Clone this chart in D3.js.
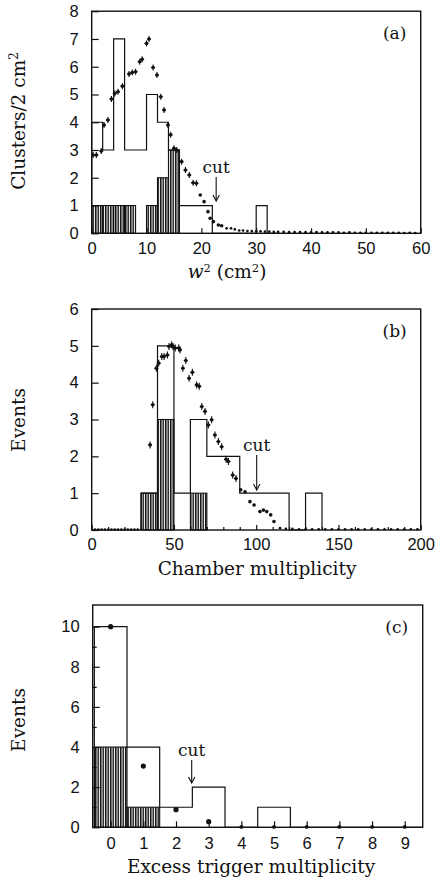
<!DOCTYPE html>
<html><head><meta charset="utf-8">
<script src="https://cdn.jsdelivr.net/npm/d3@7"></script>
<style>
html,body{margin:0;padding:0;background:#fff;}
svg{display:block;}
</style></head>
<body>
<script>
// ---------- Panel (a) ----------
const aBinStart = [0,2,4,6,8,10,12,14,16,18,20,22,24,26,28,30,32];
const aOpenCounts = [4,3,7,3,3,5,4,3,1,1,1,0,0,0,0,1,0];
const aHatchedCounts = [1,1,1,1,0,1,2,3,0,0,0,0,0,0,0,0,0];
const aPointX = [0.25,0.85,1.75,2.25,2.95,3.6,4.2,4.8,5.6,6.8,7.4,8.0,8.75,9.2,10.0,10.45,11.2,11.9,12.6,13.2,13.9,14.4,15.0,15.5,16.4,17.1,17.8,18.5,19.1,19.8,20.5,21.2,21.6,22.2,23.1,23.7,24.6,25.4,26.1,26.9,27.6,28.4,29.2,30,30.8,31.6,32.4,33.2,34,35,36,37,38,39,40,41,42,43,44,45,46,47,48,49,50,51,52,53,54,55,56,57,58,59];
const aPointY = [2.82,2.82,2.96,3.9,4.08,4.84,5.04,5.1,5.3,5.74,5.79,5.82,6.18,6.27,6.84,7.0,5.97,5.7,4.92,4.44,3.9,3.55,3.06,3.0,2.58,2.28,2.1,1.82,1.8,1.38,1.14,0.78,0.54,0.42,0.3,0.27,0.18,0.18,0.14,0.1,0.1,0.08,0.08,0.07,0.07,0.06,0.06,0.05,0.05,0.05,0.04,0.04,0.04,0.04,0.03,0.04,0.03,0.03,0.03,0.03,0.02,0.03,0.02,0.02,0.02,0.02,0.02,0.02,0.02,0.02,0.02,0.01,0.02,0.01];
const aYTicks = [0,1,2,3,4,5,6,7,8];
const aXTicks = [0,10,20,30,40,50,60];

// ---------- Panel (b) ----------
const bBinStart = [30,40,50,60,70,80,90,100,110,120,130];
const bOpenCounts = [1,5,1,3,2,2,1,1,1,0,1];
const bHatchedCounts = [1,3,0,1,0,0,0,0,0,0,0];
const bPointX = [2,4,6,8,10,12,14,16,18,20,22,24,26,28,35.5,37.1,39.3,40.7,42.6,44,46,47,48.6,49.4,50.8,52.9,53.7,55.4,57.2,59.2,61.2,63.8,65.4,66.9,68.9,70.9,72.9,74.9,77,79,81.7,83.1,85.7,87.7,90.6,93.2,96.2,98.7,102.3,104.4,106.4,108.8,110.8,114.5,118,122,126,130,134,138,142,146,150,154,158,162,166,170,174,178,182,186,190,194,198];
const bPointY = [0.01,0.01,0.01,0.01,0.01,0.01,0.01,0.01,0.01,0.01,0.01,0.01,0.01,0.01,2.31,3.4,4.39,4.53,4.71,4.71,4.75,4.98,5.03,4.98,4.94,4.94,4.89,4.39,4.6,4.12,4.28,3.94,3.9,3.35,3.22,2.85,2.99,2.58,2.4,2.26,1.92,1.86,1.49,1.4,1.09,1.04,0.77,0.68,0.5,0.54,0.5,0.41,0.23,0.05,0.03,0.03,0.02,0.02,0.02,0.02,0.02,0.02,0.02,0.02,0.02,0.02,0.02,0.02,0.02,0.02,0.02,0.02,0.02,0.02,0.02];
const bYTicks = [0,1,2,3,4,5,6];
const bXTicks = [0,50,100,150,200];
const bXMinorTicks = [10,20,30,40,60,70,80,90,110,120,130,140,160,170,180,190];

// ---------- Panel (c) ----------
const cCategories = [0,1,2,3,4,5,6,7,8,9];
const cOpenCounts = [10,4,1,2,0,1,0,0,0,0];
const cHatchedCounts = [4,1,0,0,0,0,0,0,0,0];
const cPointY = [10,3.05,0.88,0.28,0.02,0.02,0.02,0.02,0.02,0.02];
const cYTicks = [0,2,4,6,8,10];
const cYMinorTicks = [1,3,5,7,9];

const W = 438, H = 878;
const svg = d3.select("body").append("svg").attr("width", W).attr("height", H);

const defs = svg.append("defs");
const pat = defs.append("pattern").attr("id","hatch").attr("patternUnits","userSpaceOnUse")
  .attr("width",2.5).attr("height",10);
pat.append("rect").attr("x",0).attr("y",0).attr("width",1.5).attr("height",10).attr("fill","#111");

const TICKFONT = "'Liberation Sans', Arial, sans-serif";
const SERIF = "'DejaVu Serif', serif";

function stepPoints(starts, counts, lastEnd) {
  const pts = [[starts[0], 0]];
  starts.forEach((s,i) => pts.push([s, counts[i]]));
  pts.push([lastEnd, counts[counts.length-1]]);
  pts.push([lastEnd, 0]);
  return pts;
}

function panel(opt) {
  const g = svg.append("g");
  const x = d3.scaleLinear().domain(opt.xDomain).range([opt.left, opt.right]);
  const y = d3.scaleLinear().domain(opt.yDomain).range([opt.bottom, opt.top]);

  opt.starts.forEach((s,i) => {
    const v = opt.hatched[i];
    if (v > 0) {
      g.append("rect").attr("x", x(s)).attr("y", y(v))
        .attr("width", x(s+opt.width)-x(s)).attr("height", y(0)-y(v))
        .attr("fill","url(#hatch)").attr("stroke","#111").attr("stroke-width",1.1);
    }
  });

  const openPts = stepPoints(opt.starts, opt.open, opt.starts[opt.starts.length-1] + opt.width);
  const line = d3.line().curve(d3.curveStepAfter).x(d=>x(d[0])).y(d=>y(d[1]));
  g.append("path").attr("d", line(openPts)).attr("fill","none").attr("stroke","#111").attr("stroke-width",1.2);

  g.append("rect").attr("x",opt.left).attr("y",opt.top).attr("width",opt.right-opt.left)
    .attr("height",opt.bottom-opt.top).attr("fill","none").attr("stroke","#111").attr("stroke-width",1.4);

  const yAxis = d3.axisLeft(y).tickValues(opt.yTicks).tickSize(-7).tickPadding(13).tickFormat(d3.format("d"));
  g.append("g").attr("transform",`translate(${opt.left},0)`).call(yAxis);
  if (opt.yMinor) {
    g.append("g").attr("transform",`translate(${opt.left},0)`)
      .call(d3.axisLeft(y).tickValues(opt.yMinor).tickSize(-4).tickFormat(""));
  }
  g.append("g").attr("transform",`translate(0,${opt.bottom})`)
    .call(d3.axisBottom(x).tickValues(opt.xTicks).tickSize(-opt.xTickLen).tickPadding(opt.xPad).tickFormat(d3.format("d")));
  if (opt.xMinor) {
    g.append("g").attr("transform",`translate(0,${opt.bottom})`)
      .call(d3.axisBottom(x).tickValues(opt.xMinor).tickSize(-3).tickFormat(""));
  }
  g.selectAll(".domain").remove();
  g.selectAll(".tick line").attr("stroke","#111").attr("stroke-width",1.2);
  g.selectAll(".tick text").attr("font-family",TICKFONT).attr("font-size",16.5).attr("fill","#111");

  const pts = opt.px.map((v,i)=>[v,opt.py[i]]);
  const pg = g.append("g");
  pts.forEach(d => {
    const cx = x(d[0]), cy = y(d[1]);
    if (d[1] > opt.errMin) {
      pg.append("line").attr("x1",cx).attr("x2",cx).attr("y1",cy-opt.errH).attr("y2",cy+opt.errH)
        .attr("stroke","#111").attr("stroke-width",1.1);
      pg.append("line").attr("x1",cx-opt.errW).attr("x2",cx+opt.errW).attr("y1",cy).attr("y2",cy)
        .attr("stroke","#111").attr("stroke-width",1.1);
    }
    pg.append("circle").attr("cx",cx).attr("cy",cy).attr("r", d[1] > 0.2 ? opt.r : opt.r*0.75).attr("fill","#111");
  });

  const ax = x(opt.cutX);
  g.append("line").attr("x1",ax).attr("x2",ax).attr("y1",opt.cutY0).attr("y2",opt.cutY1-1)
    .attr("stroke","#111").attr("stroke-width",1.1);
  g.append("path").attr("d",`M${ax-3.2},${opt.cutY1-6} L${ax},${opt.cutY1} L${ax+3.2},${opt.cutY1-6}`)
    .attr("fill","none").attr("stroke","#111").attr("stroke-width",1.1);
  g.append("text").attr("x",ax).attr("y",opt.cutY0-4).attr("text-anchor","middle")
    .attr("font-family",SERIF).attr("font-size",17).attr("fill","#111").text("cut");

  g.append("text").attr("x",opt.right-26).attr("y",opt.top+28).attr("text-anchor","middle")
    .attr("font-family",SERIF).attr("font-size",17).attr("fill","#111").text(opt.label);

  g.append("text").attr("transform",`translate(${opt.yTitleX},${opt.yTitleY}) rotate(-90)`)
    .attr("text-anchor","middle").attr("font-family",SERIF).attr("font-size",18.5).attr("fill","#111")
    .call(opt.yTitle);
  g.append("text").attr("x",opt.xTitleX).attr("y",opt.xTitleY).attr("text-anchor","middle")
    .attr("font-family",SERIF).attr("font-size",18.5).attr("fill","#111")
    .call(opt.xTitle);
  return {x,y};
}

panel({
  left:91.7, right:420.7, top:11.2, bottom:233.3,
  xDomain:[0,60], yDomain:[0,8],
  starts:aBinStart, width:2, open:aOpenCounts, hatched:aHatchedCounts,
  yTicks:aYTicks, xTicks:aXTicks, xTickLen:5, xPad:9,
  px:aPointX, py:aPointY, errMin:1.5, errH:3, errW:2, r:1.8,
  cutX:22.7, cutY0:177, cutY1:201,
  label:"(a)", yTitleX:25, yTitleY:121,
  yTitle: t => { t.text("Clusters/2 cm"); t.append("tspan").attr("dy",-7).attr("font-size",12).text("2"); },
  xTitleX:227, xTitleY:278,
  xTitle: t => {
    t.append("tspan").attr("font-style","italic").text("w");
    t.append("tspan").attr("dy",-6).attr("font-size",11.5).text("2");
    t.append("tspan").attr("dy",6).text(" (cm");
    t.append("tspan").attr("dy",-6).attr("font-size",11.5).text("2");
    t.append("tspan").attr("dy",6).text(")");
  }
});

panel({
  left:91.7, right:420.7, top:309, bottom:530,
  xDomain:[0,200], yDomain:[0,6],
  starts:bBinStart, width:10, open:bOpenCounts, hatched:bHatchedCounts,
  yTicks:bYTicks, xTicks:bXTicks, xMinor:bXMinorTicks, xTickLen:5, xPad:8,
  px:bPointX, py:bPointY, errMin:1.2, errH:3.5, errW:2, r:1.8,
  cutX:100.3, cutY0:455, cutY1:490,
  label:"(b)", yTitleX:25, yTitleY:420,
  yTitle: t => t.text("Events"),
  xTitleX:257, xTitleY:575,
  xTitle: t => t.text("Chamber multiplicity")
});

panel({
  left:92.7, right:422.7, top:605, bottom:827.3,
  xDomain:[-0.55,9.55], yDomain:[0,11.08],
  starts:cCategories.map(c=>c-0.5), width:1, open:cOpenCounts, hatched:cHatchedCounts,
  yTicks:cYTicks, yMinor:cYMinorTicks, xTicks:cCategories, xTickLen:6, xPad:10,
  px:cCategories, py:cPointY, errMin:100, errH:0, errW:0, r:2.6,
  cutX:2.48, cutY0:760, cutY1:783,
  label:"(c)", yTitleX:25, yTitleY:720,
  yTitle: t => t.text("Events"),
  xTitleX:251, xTitleY:873,
  xTitle: t => t.text("Excess trigger multiplicity")
});
</script>
</body></html>
